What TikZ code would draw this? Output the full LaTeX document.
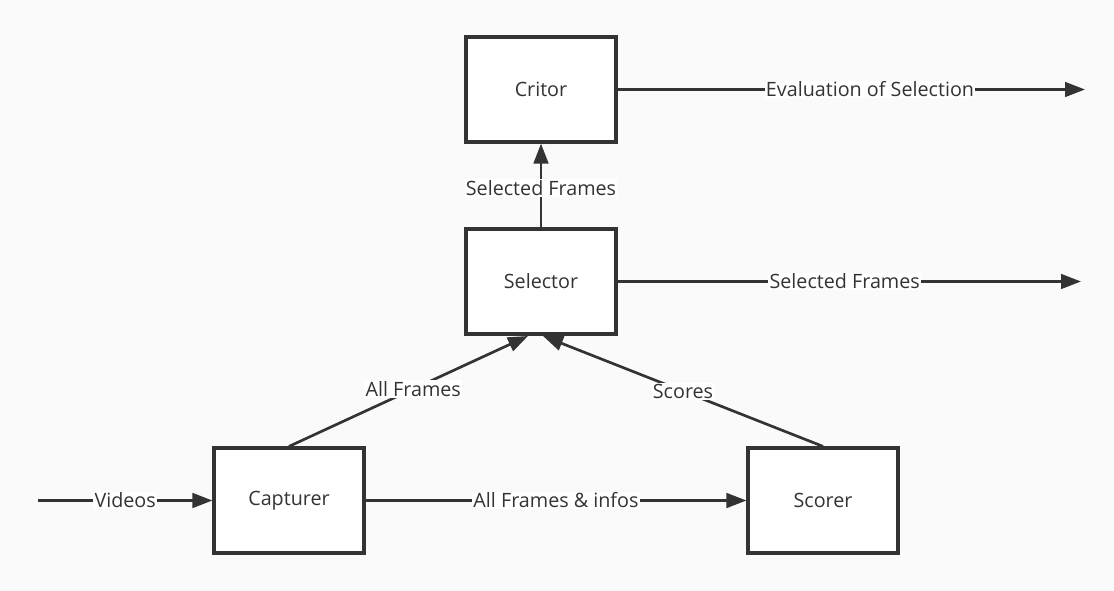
\documentclass[tikz,border=0pt]{standalone}
\usepackage{fontspec}
\setmainfont{Open Sans}
\usetikzlibrary{arrows.meta}
\definecolor{ink}{HTML}{333333}
\definecolor{bg}{HTML}{FAFAFA}
\tikzset{
  px/.style={x=0.75pt,y=-0.75pt},
  blockbox/.style={draw=ink,line width=2.4pt,fill=white,minimum width=112.5pt,minimum height=78.75pt,inner sep=0pt,font=\fontsize{14.8pt}{17pt}\selectfont,text=ink},
  conn/.style={draw=ink,line width=2pt,-{Triangle[length=15pt,width=11pt]}},
  lbl/.style={fill=white,inner sep=1pt,font=\fontsize{14.8pt}{17pt}\selectfont,text=ink}
}
\begin{document}
\begin{tikzpicture}[px]
\fill[bg] (0,0) rectangle (1114,591);
\useasboundingbox (0,0) rectangle (1114,591);
\node[blockbox] (crit) at (541,89.5) {Critor};
\node[blockbox] (sel) at (541,281.5) {Selector};
\node[blockbox] (cap) at (289,500.5) {Capturer};
\node[blockbox] (sco) at (823,500.5) {Scorer};
\coordinate (vin) at (38,500.5);
\coordinate (out1) at (1085,89.5);
\coordinate (out2) at (1081,281.5);
\coordinate (selA) at (528,336);
\coordinate (selB) at (543,336);
\draw[conn] (vin) -- node[lbl]{Videos} (cap.west);
\draw[conn] (cap.east) -- node[lbl]{All Frames \& infos} (sco.west);
\draw[conn] (cap.north) -- node[lbl,pos=0.52]{All Frames} (selA);
\draw[conn] (sco.north) -- node[lbl]{Scores} (selB);
\draw[conn] (sel.north) -- node[lbl,pos=0.47]{Selected Frames} (crit.south);
\draw[conn] (sel.east) -- node[lbl,pos=0.49]{Selected Frames} (out2);
\draw[conn] (crit.east) -- node[lbl,pos=0.54]{Evaluation of Selection} (out1);
\end{tikzpicture}
\end{document}
